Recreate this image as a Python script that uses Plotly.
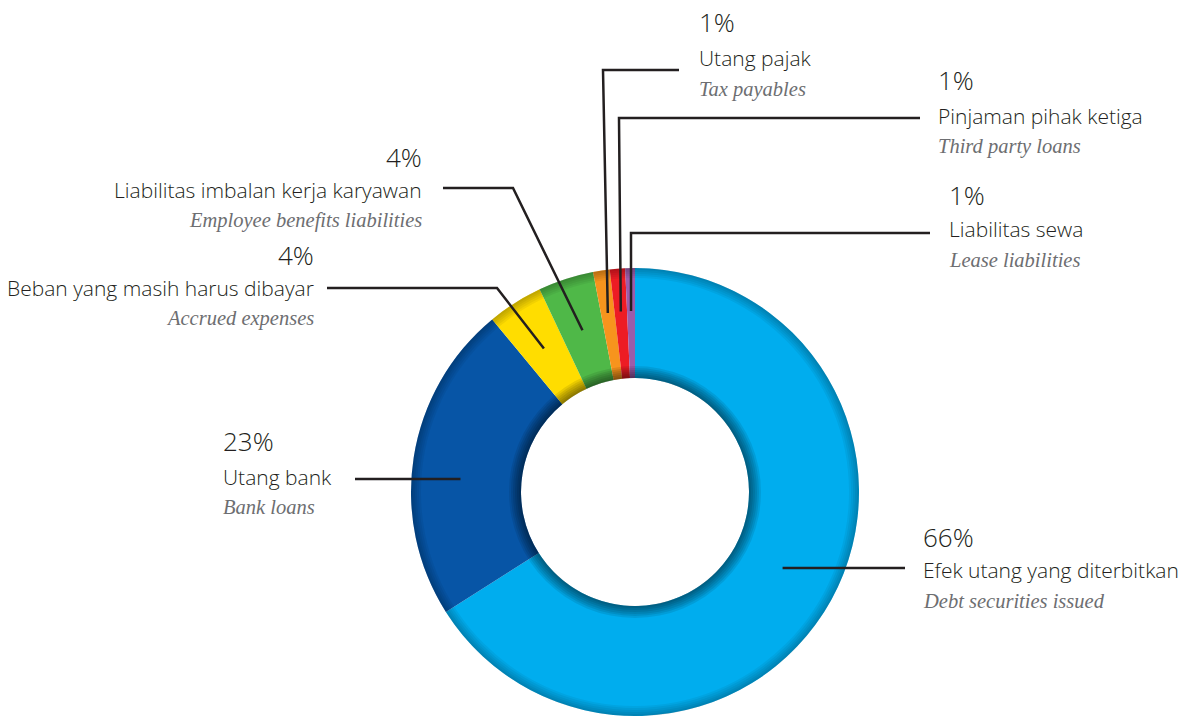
import math
import plotly.graph_objects as go

# ---------------- data ----------------
names_id = ["Efek utang yang diterbitkan", "Utang bank", "Beban yang masih harus dibayar",
            "Liabilitas imbalan kerja karyawan", "Utang pajak", "Pinjaman pihak ketiga",
            "Liabilitas sewa"]
names_en = ["Debt securities issued", "Bank loans", "Accrued expenses",
            "Employee benefits liabilities", "Tax payables", "Third party loans",
            "Lease liabilities"]
values = [66.0, 23.0, 4.0, 4.0, 1.2, 1.1, 0.7]
pct_labels = ["66%", "23%", "4%", "4%", "1%", "1%", "1%"]
colors = ["#00ADEE", "#0755A6", "#FFDD00", "#4FB848", "#F7941D", "#ED1C24", "#9B5DAA"]

# ---------------- layout constants (pixels) ----------------
W, H = 1186, 718
CX, CY, R, RIN = 635, 492, 224, 114
HOLE = RIN / R
anchor_r = [166, 175, 170, 170, 181, 181, 181]
# leader line routes after the anchor point: ("h", y, x_end) = horizontal line at y to x_end
routes = [
    [("h", 568, 905)],
    [("h", 479, 355)],
    [(497, 288), (327, 288)],
    [(513, 188), (443, 188)],
    [(603, 70), (679, 70)],
    [(619, 118), (920, 118)],
    [(631, 233), (930, 233)],
]
# text placement: x, align, y of pct, y of name, y of english
text_pos = [
    (921, "left", 537, 570, 601),
    (221, "left", 441, 477, 507),
    (316, "right", 255, 288, 318),
    (424, "right", 157, 190, 220),
    (697, "left", 22, 58, 89),
    (936, "left", 80, 116, 146),
    (947, "left", 195, 229, 260),
]

LINE_COLOR = "#231F20"
TEXT_COLOR = "#231F20"
EN_COLOR = "#6D6E71"


def px(x):
    return x / W


def py(y):
    return 1 - y / H


def domain_for(radius):
    return dict(x=[px(CX - radius), px(CX + radius)], y=[py(CY + radius), py(CY - radius)])


fig = go.Figure()

fig.add_trace(go.Pie(
    values=values, labels=names_id, sort=False, direction="clockwise", rotation=0,
    hole=HOLE, textinfo="none", hoverinfo="label+percent",
    marker=dict(colors=colors, line=dict(width=0)),
    domain=domain_for(R), showlegend=False,
))

# subtle bevel: inner shadow and outer rim (stacked translucent rings)
for k in range(1, 7):
    ro = RIN + 2 * k
    fig.add_trace(go.Pie(values=[1], labels=["s"], hole=RIN / ro, textinfo="none",
                         hoverinfo="skip", sort=False,
                         marker=dict(colors=["rgba(0,0,0,0.09)"], line=dict(width=0)),
                         domain=domain_for(ro), showlegend=False))
for k in range(1, 6):
    ri = R - 2 * k
    fig.add_trace(go.Pie(values=[1], labels=["s"], hole=ri / R, textinfo="none",
                         hoverinfo="skip", sort=False,
                         marker=dict(colors=["rgba(0,0,0,0.05)"], line=dict(width=0)),
                         domain=domain_for(R), showlegend=False))

# leader lines from the slices
total = sum(values)
cum = 0.0
shapes = []
for i, v in enumerate(values):
    theta = 2 * math.pi * (cum + v / 2) / total
    cum += v
    r = anchor_r[i]
    first = routes[i][0]
    if first[0] == "h":
        ly = first[1]
        side = 1 if math.sin(theta) >= 0 else -1
        ax = CX + side * math.sqrt(max(r * r - (ly - CY) ** 2, 0))
        pts = [(ax, ly), (first[2], ly)]
    else:
        ax = CX + r * math.sin(theta)
        ay = CY - r * math.cos(theta)
        pts = [(ax, ay)] + list(routes[i])
    path = "M " + " L ".join(f"{px(x):.5f},{py(y):.5f}" for x, y in pts)
    shapes.append(dict(type="path", path=path, xref="paper", yref="paper",
                       line=dict(color=LINE_COLOR, width=2.5), layer="above"))

annotations = []
for i in range(len(values)):
    x, al, yp, yn, ye = text_pos[i]
    common = dict(xref="paper", yref="paper", x=px(x), xanchor=al, yanchor="middle",
                  showarrow=False, align=al)
    annotations.append(dict(text=pct_labels[i], y=py(yp),
                            font=dict(family="Open Sans", size=26, color=TEXT_COLOR, weight=300),
                            **common))
    annotations.append(dict(text=names_id[i], y=py(yn),
                            font=dict(family="Open Sans", size=21, color=TEXT_COLOR, weight=300),
                            **common))
    annotations.append(dict(text="<i>" + names_en[i] + "</i>", y=py(ye),
                            font=dict(family="Liberation Serif", size=20.5, color=EN_COLOR),
                            **common))

fig.update_layout(
    width=W, height=H, margin=dict(l=0, r=0, t=0, b=0),
    paper_bgcolor="white", plot_bgcolor="white",
    shapes=shapes, annotations=annotations, showlegend=False,
)

fig.write_html("out.html")
